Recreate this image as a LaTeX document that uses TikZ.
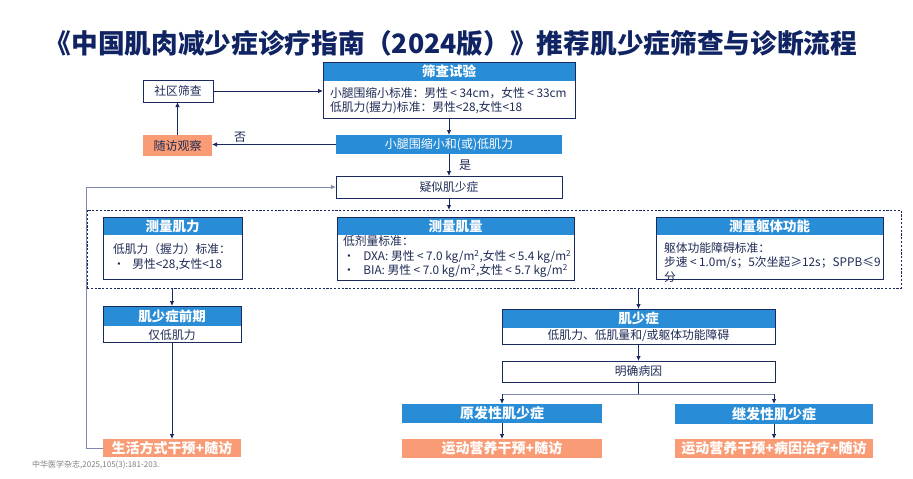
\documentclass[tikz,border=0pt]{standalone}
\usepackage{fontspec}
\setmainfont{Noto Sans CJK SC}
\usetikzlibrary{arrows.meta}
\definecolor{navy}{HTML}{1B2A5E}
\definecolor{ttl}{HTML}{102463}
\definecolor{hblue}{HTML}{288CD6}
\definecolor{salm}{HTML}{F99B74}
\definecolor{gline}{HTML}{7C88AC}
\definecolor{fgray}{HTML}{7F7F7F}
\definecolor{btxt}{HTML}{1F2B55}
\newcommand{\lt}{\hspace{2.5pt}<\hspace{2.5pt}}
\tikzset{
  box/.style={draw=navy, line width=0.9pt, inner sep=0pt, outer sep=0pt, anchor=north west},
  hdr/.style={fill=hblue, text=white, font=\bfseries\fontsize{13.5}{15}\selectfont, inner sep=0pt, outer sep=0pt, anchor=north west},
  bluebar/.style={fill=hblue, text=white, font=\fontsize{12}{14}\selectfont, inner sep=0pt, outer sep=0pt, anchor=north west},
  bluebold/.style={fill=hblue, text=white, font=\bfseries\fontsize{14}{16}\selectfont, inner sep=0pt, outer sep=0pt, anchor=north west},
  salbold/.style={fill=salm, text=white, font=\bfseries\fontsize{14}{16}\selectfont, inner sep=0pt, outer sep=0pt, anchor=north west},
  salplain/.style={fill=salm, text=btxt, font=\fontsize{12}{14}\selectfont, inner sep=0pt, outer sep=0pt, anchor=north west},
  txt/.style={font=\fontsize{11.8}{14.5}\selectfont, text=btxt, inner sep=0pt, outer sep=0pt, align=left},
  arr/.style={-{Latex[length=5pt,width=4.5pt]}, draw=navy, line width=0.8pt},
  garr/.style={-{Latex[length=5pt,width=4.5pt]}, draw=gline, line width=1pt},
  lbl/.style={font=\fontsize{12}{14}\selectfont, text=btxt, inner sep=0pt},
}
\begin{document}
\begin{tikzpicture}[x=1pt,y=-1pt]
\useasboundingbox (0,0) rectangle (913,479);
\fill[white] (0,0) rectangle (913,479);

% title
\node[font=\bfseries\fontsize{26.7}{30}\selectfont, text=ttl, inner sep=0pt] (title) at (451,43) {《中国肌肉减少症诊疗指南（2024版）》推荐肌少症筛查与诊断流程};

% screening test
\node[hdr, minimum width=252, minimum height=19] (sch) at (323,62) {筛查试验};
\node[box, minimum width=252, minimum height=56] (sc) at (323,62) {};
\node[txt, anchor=west] (sct) at (330,100.5) {小腿围缩小标准：男性\lt 34cm，女性\lt 33cm\\低肌力(握力)标准：男性<28,女性<18};

% community screening
\node[box, minimum width=70, minimum height=22, txt] (sq) at (143,80) {社区筛查};
% follow-up observation
\node[salplain, minimum width=69, minimum height=21] (sf) at (143,135) {随访观察};
% calf bar
\node[bluebar, minimum width=226, minimum height=19] (xt) at (336,135) {小腿围缩小和(或)低肌力};
% suspected
\node[box, minimum width=226, minimum height=22, txt] (ys) at (336,176) {疑似肌少症};

% dashed group
\node[draw=navy, line width=0.8pt, dash pattern=on 2.2pt off 1.6pt, inner sep=0pt, outer sep=0pt, anchor=north west, minimum width=814, minimum height=78] (db) at (87,210) {};

% measure strength
\node[hdr, minimum width=139, minimum height=18] (jlh) at (103,217) {测量肌力};
\node[box, minimum width=139, minimum height=62] (jl) at (103,217) {};
\node[txt, anchor=west] (jlt) at (113,257) {低肌力（握力）标准：\\•\hspace{7.5pt}男性<28,女性<18};

% measure mass
\node[hdr, minimum width=237, minimum height=18] (jmh) at (337,217) {测量肌量};
\node[box, minimum width=237, minimum height=63] (jm) at (337,217) {};
\node[txt, anchor=west] (jmt) at (343,257) {低剂量标准：\\•\hspace{8.5pt}DXA: 男性\lt 7.0 kg/m\textsuperscript{2},女性\lt 5.4 kg/m\textsuperscript{2}\\•\hspace{8.5pt}BIA: 男性\lt 7.0 kg/m\textsuperscript{2},女性\lt 5.7 kg/m\textsuperscript{2}};

% measure physical function
\node[hdr, minimum width=227, minimum height=18] (qth) at (656,217) {测量躯体功能};
\node[box, minimum width=227, minimum height=62] (qt) at (656,217) {};
\node[txt, anchor=west] (qtt) at (664,262.5) {躯体功能障碍标准：\\步速\lt 1.0m/s；5次坐起≥12s；SPPB≤9\\分};

% pre-sarcopenia
\node[hdr, minimum width=138, minimum height=20] (qqh) at (103,306) {肌少症前期};
\node[box, minimum width=138, minimum height=36] (qq) at (103,306) {};
\node[txt] (qqt) at (172,335) {仅低肌力};

% lifestyle
\node[salbold, minimum width=138, minimum height=18] (lf) at (103,439) {生活方式干预+随访};

% sarcopenia
\node[hdr, minimum width=273, minimum height=19] (jsh) at (502,309) {肌少症};
\node[box, minimum width=273, minimum height=35] (js) at (502,309) {};
\node[txt] (jst) at (638.5,336) {低肌力、低肌量和/或躯体功能障碍};

% cause
\node[box, minimum width=273, minimum height=21, txt] (mq) at (502,361) {明确病因};

% primary / secondary
\node[bluebold, minimum width=200, minimum height=19] (yf) at (402,404) {原发性肌少症};
\node[bluebold, minimum width=198, minimum height=20] (jf) at (675,404) {继发性肌少症};
\node[salbold, minimum width=200, minimum height=19] (yd) at (402,439) {运动营养干预+随访};
\node[salbold, minimum width=198, minimum height=19] (yb) at (675,439) {运动营养干预+病因治疗+随访};

% footnote
\node[font=\fontsize{8}{9.5}\selectfont, text=fgray, anchor=west, inner sep=0pt] (fn) at (32,464.5) {中华医学杂志,2025,105(3):181-203.};

% connectors
\draw[arr] (sq.east) -- (sq.east -| sc.west);
\draw[arr] (sf.north) -- (sf.north |- sq.south);
\draw[arr] (xt.west) -- (xt.west -| sf.east);
\node[lbl] (no) at (240,137) {否};
\draw[arr] (sc.south) -- (xt.north);
\draw[arr] (xt.south) -- (ys.north);
\node[lbl] (yes) at (465,165) {是};
\draw[arr] (ys.south) -- (ys.south |- db.north);
\draw[garr] (lf.west) -- ++(-17,0) coordinate (lp) |- (ys.west);
\draw[arr] (qq.north |- db.south) -- (qq.north);
\draw[arr] (js.north |- db.south) -- (js.north);
\draw[arr] (qq.south) -- (lf.north);
\draw[arr] (js.south) -- (mq.north);
\draw[draw=navy, line width=0.8pt] (mq.south) -- ++(0,12) coordinate (bj);
\draw[draw=gline, line width=1pt] (bj -| yf.north) -- (bj -| jf.north);
\draw[arr] (bj -| yf.north) -- (yf.north);
\draw[arr] (bj -| jf.north) -- (jf.north);
\draw[arr] (yf.south) -- (yd.north);
\draw[arr] (jf.south) -- (yb.north);
\end{tikzpicture}
\end{document}
